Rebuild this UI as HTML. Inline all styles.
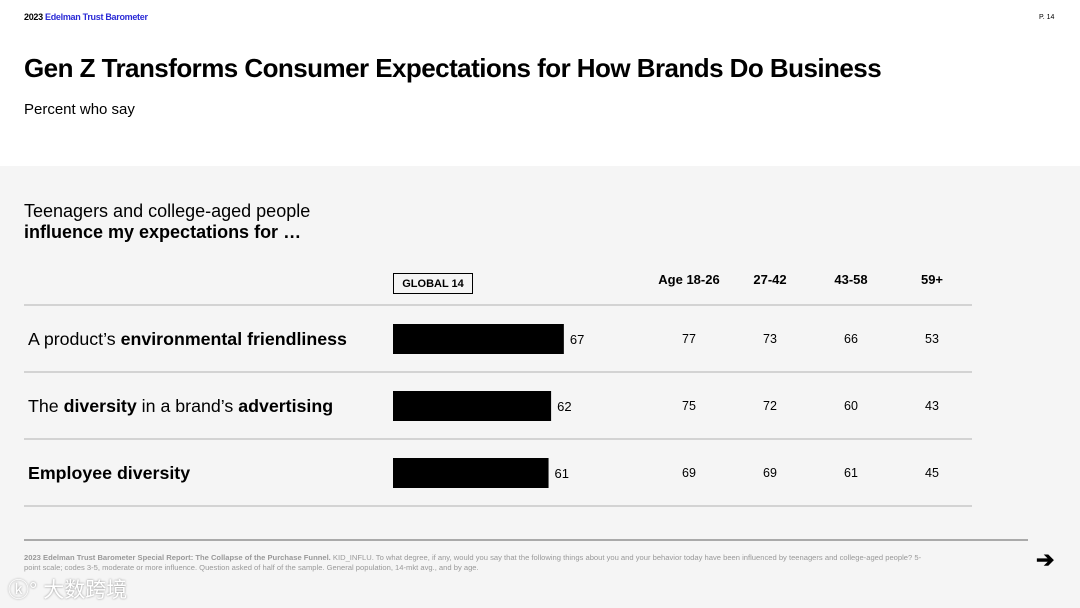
<!DOCTYPE html>
<html><head><meta charset="utf-8"><style>
body{margin:0;width:1080px;height:608px;position:relative;overflow:hidden;background:#fff;font-family:"Liberation Sans","Noto Sans CJK SC",sans-serif;color:#000}
.a{position:absolute;white-space:nowrap}
</style></head><body>
<div class="a" style="left:24px;top:12px;font-size:9px;font-weight:bold;letter-spacing:-0.3px">2023 <span style="color:#2b2bd6">Edelman Trust Barometer</span></div>
<div class="a" style="left:1039px;top:14px;font-size:7px">P. 14</div>
<div class="a" style="left:24px;top:53px;font-size:26px;font-weight:bold;letter-spacing:-0.55px">Gen Z Transforms Consumer Expectations for How Brands Do Business</div>
<div class="a" style="left:24px;top:101px;font-size:15px">Percent who say</div>
<div class="a" style="left:0;top:166px;width:1080px;height:442px;background:#f5f5f5"></div>
<div class="a" style="left:24px;top:201px;font-size:18px;line-height:21px">Teenagers and college-aged people<br><b>influence my expectations for …</b></div>
<div class="a" style="left:393px;top:273px;width:78px;height:19px;border:1.5px solid #000;font-size:11px;font-weight:bold;text-align:center;line-height:20px">GLOBAL 14</div>
<svg class="a" id="chart" style="left:0;top:0" width="1080" height="608"></svg>
<div class="a" style="left:24px;top:539px;width:1004px;height:2px;background:#aaa"></div>
<div class="a" style="left:24px;top:553px;font-size:7.6px;line-height:10px;color:#999;white-space:normal;width:905px"><b>2023 Edelman Trust Barometer Special Report: The Collapse of the Purchase Funnel.</b> KID_INFLU. To what degree, if any, would you say that the following things about you and your behavior today have been influenced by teenagers and college-aged people? 5-point scale; codes 3-5, moderate or more influence. Question asked of half of the sample. General population, 14-mkt avg., and by age.</div>
<div class="a" style="left:1036px;top:547px;font-size:22px;font-weight:bold">➔</div>
<div class="a" style="left:8px;top:574px;font-size:21px;color:#fff;text-shadow:0 0 2px #888">ⓚ° 大数跨境</div>
<script>
const categories=["A product’s <b>environmental friendliness</b>","The <b>diversity</b> in a brand’s <b>advertising</b>","<b>Employee diversity</b>"];
const globalValues=[67,62,61];
const ageGroups=["Age 18-26","27-42","43-58","59+"];
const age1826=[77,75,69];
const age2742=[73,72,69];
const age4358=[66,60,61];
const age59=[53,43,45];
const ns="http://www.w3.org/2000/svg";
const svg=document.getElementById('chart');
const x0=393,scale=2.55,rowTop=305,rowH=67;
const colX=[689,770,851,932];
const ageSeries=[age1826,age2742,age4358,age59];
function xs(v){return v*scale;}
function mk(t,a){const e=document.createElementNS(ns,t);for(const k in a)e.setAttribute(k,a[k]);svg.appendChild(e);return e;}
ageGroups.forEach((g,j)=>{
 const t=mk('text',{x:colX[j],y:284,'text-anchor':'middle','font-size':13,'font-weight':'bold','font-family':'Liberation Sans'});
 t.textContent=g;
 
 
});
for(let i=0;i<=categories.length;i++){
 const l=mk('line',{x1:24,x2:972,y1:rowTop+i*rowH,y2:rowTop+i*rowH,stroke:'#c8c8c8','stroke-width':1.5});
 
 
}
categories.forEach((c,i)=>{
 const cy=rowTop+i*rowH+34;
 const fo=mk('foreignObject',{x:28,y:cy-10,width:360,height:28});
 fo.innerHTML='<div xmlns="http://www.w3.org/1999/xhtml" style="font:17.8px Liberation Sans,sans-serif;white-space:nowrap">'+c+'</div>';
 
 
 const b=mk('rect',{x:x0,y:cy-15,width:xs(globalValues[i]),height:30,fill:'#000'});
 
 
 const v=mk('text',{x:x0+xs(globalValues[i])+6,y:cy+5,'font-size':13,'font-family':'Liberation Sans'});
 v.textContent=globalValues[i];
 
 
 ageSeries.forEach((s,j)=>{
  const t=mk('text',{x:colX[j],y:cy+4,'text-anchor':'middle','font-size':12.5,'font-family':'Liberation Sans'});
  t.textContent=s[i];
  
  
 });
});
</script>
</body></html>
